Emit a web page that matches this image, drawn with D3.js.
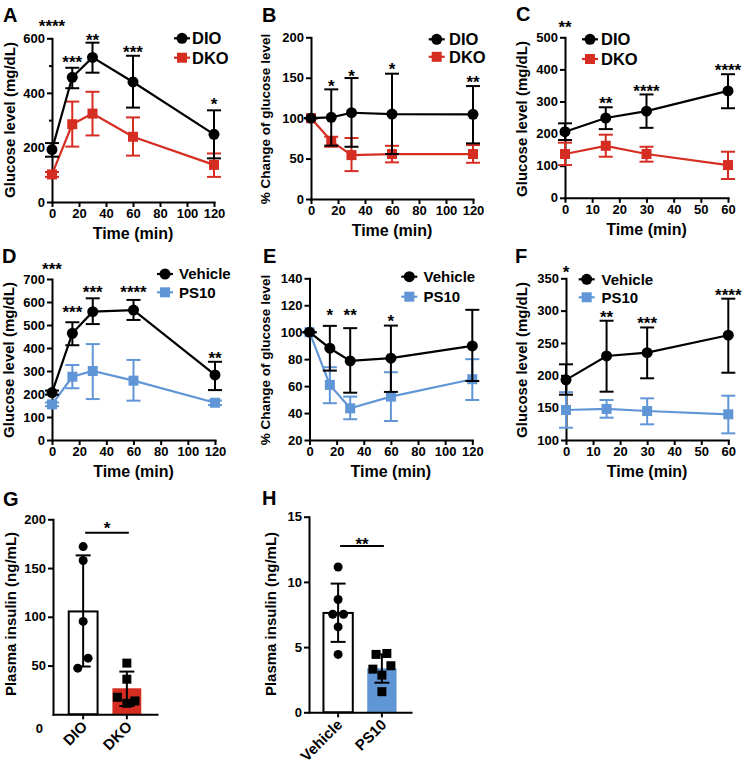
<!DOCTYPE html>
<html><head><meta charset="utf-8">
<script src="https://cdn.jsdelivr.net/npm/d3@7"></script>
<style>body{margin:0;background:#fff}svg{display:block}#wrap{position:relative;width:745px;height:769px}
.rlab{position:absolute;font-family:'Liberation Sans',Arial,Helvetica,sans-serif;font-weight:bold;font-size:15px;white-space:nowrap;line-height:1;transform-origin:100% 100%;transform:rotate(-45deg)}</style>
</head><body>
<div id="wrap"><svg id="fig" width="745" height="769"></svg></div>
<script>
// ================= DATA =================
const timeGTT = [0, 15, 30, 60, 120];
const timeITT = [0, 15, 30, 60];

// Panel A – glucose (mg/dL), GTT, DIO vs DKO
const A_dio   = [192, 457, 530, 440, 248];
const A_dioUp = [216, 492, 584, 536, 336];
const A_dioLo = [166, 417, 474, 346, 160];
const A_dko   = [101, 285, 324, 239, 136];
const A_dkoUp = [110, 368, 404, 310, 178];
const A_dkoLo = [92, 203, 244, 170, 92];
const A_starT = [0, 15, 30, 60, 120];
const A_stars = ["****", "***", "**", "***", "*"];
const A_starV = [658, 528, 608, 564, 372];

// Panel B – % change of glucose, DIO vs DKO
const B_dio   = [100, 101, 106.7, 105, 104.7];
const B_dioUp = [100, 135.6, 149.6, 155, 139.7];
const B_dioLo = [100, 66, 64.6, 55.6, 68.8];
const B_dko   = [100, 71.7, 54.3, 55.6, 55.6];
const B_dkoUp = [100, 77, 75.4, 65.8, 66.7];
const B_dkoLo = [100, 64.6, 34.5, 45.3, 44.8];
const B_starT = [15, 30, 60, 120];
const B_stars = ["*", "*", "*", "**"];
const B_starV = [144.7, 157.4, 165.7, 150];

// Panel C – glucose (mg/dL), ITT, DIO vs DKO
const C_dio   = [206, 248.6, 270, 333];
const C_dioUp = [232, 282, 322, 385];
const C_dioLo = [180, 214, 218, 279];
const C_dko   = [136.4, 162, 136.4, 102];
const C_dkoUp = [171.7, 196.6, 159, 143.6];
const C_dkoLo = [102, 128, 112.5, 58.6];
const C_starT = [0, 15, 30, 60];
const C_stars = ["**", "**", "****", "****"];
const C_starV = [543.6, 307.8, 344, 410.6];

// Panel D – glucose (mg/dL), GTT, Vehicle vs PS10
const D_veh   = [206, 464, 558, 565, 283];
const D_vehUp = [215, 512, 616, 609, 340];
const D_vehLo = [197, 412, 504, 522, 217];
const D_ps    = [155, 275, 300, 258, 162];
const D_psUp  = [163, 326, 417, 348, 172];
const D_psLo  = [147, 225, 178, 171, 152];
const D_starT = [0, 15, 30, 60, 120];
const D_stars = ["***", "***", "***", "****", "**"];
const D_starV = [758, 574, 661, 661, 374];

// Panel E – % change of glucose, Vehicle vs PS10
const E_veh   = [100, 88.1, 78.7, 80.7, 89.8];
const E_vehUp = [100, 104.7, 103, 104.9, 116.6];
const E_vehLo = [100, 71.5, 55.1, 55.7, 63.8];
const E_ps    = [100, 60.9, 43.5, 52.2, 65.1];
const E_psUp  = [100, 74, 52.2, 70.3, 80];
const E_psLo  = [100, 47.3, 35.4, 34.1, 49.7];
const E_starT = [15, 30, 60];
const E_stars = ["*", "**", "*"];
const E_starV = [115.9, 115.9, 111.4];

// Panel F – glucose (mg/dL), ITT, Vehicle vs PS10
const F_veh   = [193, 229.9, 235, 262];
const F_vehUp = [217, 284.4, 274, 318.5];
const F_vehLo = [170, 174.7, 195.4, 204];
const F_ps    = [146.4, 148, 144.8, 139.7];
const F_psUp  = [174, 161.8, 164.4, 168.5];
const F_psLo  = [119, 134.5, 124.2, 110.3];
const F_starT = [0, 15, 30, 60];
const F_stars = ["*", "**", "***", "****"];
const F_starV = [365.5, 296.8, 287, 330.8];

// Panel G – plasma insulin (ng/mL)
const G_cats = ["DIO", "DKO"];
const G_mean = [105.5, 26.7];
const G_up   = [163, 43.8];
const G_lo   = [49, 8.5];
const G_dio  = [172, 157.7, 95.3, 57.6, 47.3];
const G_dioJit = [0, 0, 0, 0.55, -0.6];
const G_dko  = [52.5, 36, 17.5, 11.3, 13.7];
const G_dkoJit = [0, 0, -1.05, 0, 0.9];
const G_sig = {y: 186.3, star: "*", starY: 195};

// Panel H – plasma insulin (ng/mL)
const H_cats = ["Vehicle", "PS10"];
const H_mean = [7.62, 3.37];
const H_up   = [9.87, 4.44];
const H_lo   = [5.4, 2.27];
const H_veh  = [11.14, 8.65, 7.52, 7.52, 6.55, 4.44];
const H_vehJit = [0, 0, -0.6, 0.6, 0, 0];
const H_ps   = [4.44, 4.51, 3.31, 3.57, 2.85, 1.58];
const H_psJit = [-0.65, 0.55, -1.0, 1.0, 0, 0];
const H_sig = {y: 12.75, star: "**", starY: 13.2};

// ================= STYLE =================
const FONT = "'Liberation Sans', Arial, Helvetica, sans-serif";
const BLACK = "#000";
const RED = "#d62d22";
const BLUE = "#6196d6";

const svg = d3.select("#fig");
const wrap = d3.select("#wrap");
svg.append("rect").attr("width", 745).attr("height", 769).attr("fill", "#fff");

function styleAxis(sel, fs) {
  sel.select(".domain").attr("stroke", BLACK).attr("stroke-width", 2).attr("stroke-linecap", "square");
  sel.selectAll(".tick line").attr("stroke", BLACK).attr("stroke-width", 2);
  sel.selectAll(".tick text").attr("font-family", FONT).attr("font-weight", "bold")
     .attr("font-size", fs).attr("fill", BLACK);
}

function marker(g, shape, cx, cy, color, size) {
  if (shape === "circle") {
    g.append("circle").attr("cx", cx).attr("cy", cy).attr("r", size / 2).attr("fill", color);
  } else {
    g.append("rect").attr("x", cx - size / 2).attr("y", cy - size / 2)
      .attr("width", size).attr("height", size).attr("fill", color);
  }
}

function panelLetter(t, x, y) {
  svg.append("text").attr("x", x).attr("y", y).text(t)
    .attr("font-family", FONT).attr("font-weight", "bold").attr("font-size", 20);
}

function yTitle(t, x, y, fs) {
  svg.append("text").attr("transform", `translate(${x},${y}) rotate(-90)`)
    .attr("text-anchor", "middle").text(t)
    .attr("font-family", FONT).attr("font-weight", "bold").attr("font-size", fs);
}

function linePanel(p) {
  const g = svg.append("g");
  const x = d3.scaleLinear().domain(p.xDomain).range([p.x0, p.x1]);
  const y = d3.scaleLinear().domain(p.yDomain).range([p.yBot, p.yTop]);

  if (p.yMinor) {
    const m = g.append("g").attr("transform", `translate(${p.x0},0)`)
      .call(d3.axisLeft(y).tickValues(p.yMinor).tickSize(3).tickFormat(""));
    m.select(".domain").remove();
    m.selectAll(".tick line").attr("stroke", BLACK).attr("stroke-width", 2);
  }
  const ya = g.append("g").attr("transform", `translate(${p.x0},0)`)
    .call(d3.axisLeft(y).tickValues(p.yTicks).tickSize(5).tickSizeOuter(0).tickPadding(2));
  styleAxis(ya, 13);
  const xa = g.append("g").attr("transform", `translate(0,${p.yBot})`)
    .call(d3.axisBottom(x).tickValues(p.xTicks).tickSize(5).tickSizeOuter(0).tickPadding(2));
  styleAxis(xa, 13);

  g.append("text").attr("x", (p.x0 + p.x1) / 2).attr("y", p.yBot + 37).attr("text-anchor", "middle")
    .text("Time (min)").attr("font-family", FONT).attr("font-weight", "bold").attr("font-size", 16);

  const cap = 7;
  p.series.forEach(s => {
    const sg = g.append("g");
    p.t.forEach((t, i) => {
      const cx = x(t);
      sg.append("line").attr("x1", cx).attr("x2", cx).attr("y1", y(s.up[i])).attr("y2", y(s.lo[i]))
        .attr("stroke", s.color).attr("stroke-width", 2);
      [s.up[i], s.lo[i]].forEach(v => {
        sg.append("line").attr("x1", cx - cap).attr("x2", cx + cap).attr("y1", y(v)).attr("y2", y(v))
          .attr("stroke", s.color).attr("stroke-width", 2);
      });
    });
    sg.append("path").datum(s.mean)
      .attr("d", d3.line().x((d, i) => x(p.t[i])).y(d => y(d)))
      .attr("fill", "none").attr("stroke", s.color).attr("stroke-width", 2.2);
    s.mean.forEach((v, i) => marker(sg, s.shape, x(p.t[i]), y(v), s.color, s.shape === "circle" ? 11 : 10));
  });

  p.starT.forEach((t, i) => {
    g.append("text").attr("x", x(t)).attr("y", y(p.starV[i]) + 9.8).attr("text-anchor", "middle")
      .text(p.stars[i]).attr("font-family", FONT).attr("font-weight", "bold").attr("font-size", 17);
  });

  const L = p.legend;
  p.legendOrder.forEach((s, k) => {
    const cy = L.y + k * L.dy;
    g.append("line").attr("x1", L.x - 8).attr("x2", L.x + 8).attr("y1", cy).attr("y2", cy)
      .attr("stroke", s.color).attr("stroke-width", 2.2);
    marker(g, s.shape, L.x, cy, s.color, s.shape === "circle" ? 11 : 10);
    g.append("text").attr("x", L.tx).attr("y", cy + 0.36 * L.fs).text(s.name)
      .attr("font-family", FONT).attr("font-weight", "bold").attr("font-size", L.fs);
  });
}

function barPanel(p) {
  const g = svg.append("g");
  const x = d3.scaleBand().domain(p.cats).range([p.x0, p.x1]).paddingInner(p.pi).paddingOuter(p.po);
  const y = d3.scaleLinear().domain(p.yDomain).range([p.yBot, p.yTop]);
  const bw = x.bandwidth();

  p.cats.forEach((c, i) => {
    g.append("rect").attr("x", x(c)).attr("y", y(p.mean[i])).attr("width", bw)
      .attr("height", y(0) - y(p.mean[i]))
      .attr("fill", p.fills[i]).attr("stroke", p.strokes[i]).attr("stroke-width", p.strokes[i] === "none" ? 0 : 2);
  });

  const ya = g.append("g").attr("transform", `translate(${p.x0},0)`)
    .call(d3.axisLeft(y).tickValues(p.yTicks).tickSize(5).tickSizeOuter(0).tickPadding(2));
  styleAxis(ya, 13);
  if (p.zeroShift) {
    ya.selectAll(".tick").filter(d => d === 0).select("text")
      .attr("transform", `translate(${p.zeroShift[0]},${p.zeroShift[1]})`);
    ya.selectAll(".tick").filter(d => d === 0).select("line").remove();
  }
  const xa = g.append("g").attr("transform", `translate(0,${p.yBot})`)
    .call(d3.axisBottom(x).tickSize(5).tickSizeOuter(0).tickFormat(""));
  styleAxis(xa, 15);

  // rotated category labels as HTML overlay: bottom-right corner pinned near the tick
  p.cats.forEach(c => {
    const cx = x(c) + bw / 2;
    const ex = cx + 7, ey = p.yBot + 15;   // pivot point (bottom-right of label box)
    wrap.append("div").attr("class", "rlab").text(c)
      .style("right", (745 - ex) + "px").style("bottom", (769 - ey) + "px");
  });

  const cap = 7.5;
  p.cats.forEach((c, i) => {
    const cx = x(c) + bw / 2;
    g.append("line").attr("x1", cx).attr("x2", cx).attr("y1", y(p.up[i])).attr("y2", y(p.lo[i]))
      .attr("stroke", BLACK).attr("stroke-width", 2);
    [p.up[i], p.lo[i]].forEach(v => g.append("line").attr("x1", cx - cap).attr("x2", cx + cap)
      .attr("y1", y(v)).attr("y2", y(v)).attr("stroke", BLACK).attr("stroke-width", 2));
  });

  p.points.forEach((pts, i) => {
    const cx = x(p.cats[i]) + bw / 2;
    pts.vals.forEach((v, j) => marker(g, pts.shape, cx + pts.jit[j] * 9, y(v), BLACK, 9));
  });

  const c0 = x(p.cats[0]) + bw / 2 + 2, c1 = x(p.cats[1]) + bw / 2 + 2;
  g.append("line").attr("x1", c0).attr("x2", c1).attr("y1", y(p.sig.y)).attr("y2", y(p.sig.y))
    .attr("stroke", BLACK).attr("stroke-width", 2);
  g.append("text").attr("x", (c0 + c1) / 2).attr("y", y(p.sig.starY) + 9.8).attr("text-anchor", "middle")
    .text(p.sig.star).attr("font-family", FONT).attr("font-weight", "bold").attr("font-size", 17);
}

// ================= PANELS =================
const sDIO = (m, u, l) => ({name: "DIO", color: BLACK, shape: "circle", mean: m, up: u, lo: l});
const sDKO = (m, u, l) => ({name: "DKO", color: RED, shape: "square", mean: m, up: u, lo: l});
const sVEH = (m, u, l) => ({name: "Vehicle", color: BLACK, shape: "circle", mean: m, up: u, lo: l});
const sPS  = (m, u, l) => ({name: "PS10", color: BLUE, shape: "square", mean: m, up: u, lo: l});

{
  const d = sDIO(A_dio, A_dioUp, A_dioLo), k = sDKO(A_dko, A_dkoUp, A_dkoLo);
  linePanel({x0: 52, x1: 214, yTop: 38.3, yBot: 202, xDomain: [0, 120], yDomain: [0, 600],
    xTicks: [0, 20, 40, 60, 80, 100, 120], yTicks: [0, 200, 400, 600], yMinor: [100, 300, 500],
    t: timeGTT, series: [k, d], legendOrder: [d, k],
    starT: A_starT, stars: A_stars, starV: A_starV,
    legend: {x: 182, tx: 192, y: 38.3, dy: 19.4, fs: 16.5}});
  panelLetter("A", 3, 22);
  yTitle("Glucose level (mg/dL)", 15, 120, 15);
}
{
  const d = sDIO(B_dio, B_dioUp, B_dioLo), k = sDKO(B_dko, B_dkoUp, B_dkoLo);
  linePanel({x0: 311, x1: 473, yTop: 37.3, yBot: 199, xDomain: [0, 120], yDomain: [0, 200],
    xTicks: [0, 20, 40, 60, 80, 100, 120], yTicks: [0, 50, 100, 150, 200],
    t: timeGTT, series: [k, d], legendOrder: [d, k],
    starT: B_starT, stars: B_stars, starV: B_starV,
    legend: {x: 436.7, tx: 449, y: 39.3, dy: 17.5, fs: 16.5}});
  panelLetter("B", 262, 22);
  yTitle("% Change of glucose level", 270, 119, 13.5);
}
{
  const d = sDIO(C_dio, C_dioUp, C_dioLo), k = sDKO(C_dko, C_dkoUp, C_dkoLo);
  linePanel({x0: 565, x1: 728, yTop: 37.3, yBot: 197.8, xDomain: [0, 60], yDomain: [0, 500],
    xTicks: [0, 10, 20, 30, 40, 50, 60], yTicks: [0, 100, 200, 300, 400, 500],
    t: timeITT, series: [k, d], legendOrder: [d, k],
    starT: C_starT, stars: C_stars, starV: C_starV,
    legend: {x: 590, tx: 601, y: 39.3, dy: 19.7, fs: 16.5}});
  panelLetter("C", 516, 21);
  yTitle("Glucose level (mg/dL)", 527, 119, 15);
}
{
  const v = sVEH(D_veh, D_vehUp, D_vehLo), p = sPS(D_ps, D_psUp, D_psLo);
  linePanel({x0: 52, x1: 215, yTop: 279, yBot: 440, xDomain: [0, 120], yDomain: [0, 700],
    xTicks: [0, 20, 40, 60, 80, 100, 120], yTicks: [0, 100, 200, 300, 400, 500, 600, 700],
    t: timeGTT, series: [p, v], legendOrder: [v, p],
    starT: D_starT, stars: D_stars, starV: D_starV,
    legend: {x: 165, tx: 179, y: 274, dy: 18.3, fs: 15}});
  panelLetter("D", 2, 263);
  yTitle("Glucose level (mg/dL)", 14, 360, 15);
}
{
  const v = sVEH(E_veh, E_vehUp, E_vehLo), p = sPS(E_ps, E_psUp, E_psLo);
  linePanel({x0: 309.5, x1: 472.3, yTop: 278.3, yBot: 440, xDomain: [0, 120], yDomain: [20, 140],
    xTicks: [0, 20, 40, 60, 80, 100, 120], yTicks: [20, 40, 60, 80, 100, 120, 140],
    t: timeGTT, series: [p, v], legendOrder: [v, p],
    starT: E_starT, stars: E_stars, starV: E_starV,
    legend: {x: 409.3, tx: 423.5, y: 276.7, dy: 20, fs: 15}});
  panelLetter("E", 263, 263);
  yTitle("% Change of glucose level", 270, 360, 13.5);
}
{
  const v = sVEH(F_veh, F_vehUp, F_vehLo), p = sPS(F_ps, F_psUp, F_psLo);
  linePanel({x0: 566, x1: 728.3, yTop: 278.3, yBot: 440, xDomain: [0, 60], yDomain: [100, 350],
    xTicks: [0, 10, 20, 30, 40, 50, 60], yTicks: [100, 150, 200, 250, 300, 350],
    t: timeITT, series: [p, v], legendOrder: [v, p],
    starT: F_starT, stars: F_stars, starV: F_starV,
    legend: {x: 586.7, tx: 601.5, y: 279.3, dy: 18, fs: 15}});
  panelLetter("F", 515, 263);
  yTitle("Glucose level (mg/dL)", 527, 360, 15);
}
barPanel({x0: 53, x1: 157, pi: 0.34, po: 0.36, yTop: 519.3, yBot: 714.3, yDomain: [0, 200],
  yTicks: [0, 50, 100, 150, 200], zeroShift: [-3, 14],
  cats: G_cats, mean: G_mean, up: G_up, lo: G_lo,
  fills: ["#fff", RED], strokes: [BLACK, "none"],
  points: [{vals: G_dio, jit: G_dioJit, shape: "circle"}, {vals: G_dko, jit: G_dkoJit, shape: "square"}],
  sig: G_sig});
panelLetter("G", 3, 506);
yTitle("Plasma insulin (ng/mL)", 16, 614, 15);

barPanel({x0: 309, x1: 411, pi: 0.33, po: 0.33, yTop: 516.7, yBot: 712.3, yDomain: [0, 15],
  yTicks: [0, 5, 10, 15],
  cats: H_cats, mean: H_mean, up: H_up, lo: H_lo,
  fills: ["#fff", BLUE], strokes: [BLACK, "none"],
  points: [{vals: H_veh, jit: H_vehJit, shape: "circle"}, {vals: H_ps, jit: H_psJit, shape: "square"}],
  sig: H_sig});
panelLetter("H", 262, 505);
yTitle("Plasma insulin (ng/mL)", 276, 614, 15);
</script>
</body></html>
